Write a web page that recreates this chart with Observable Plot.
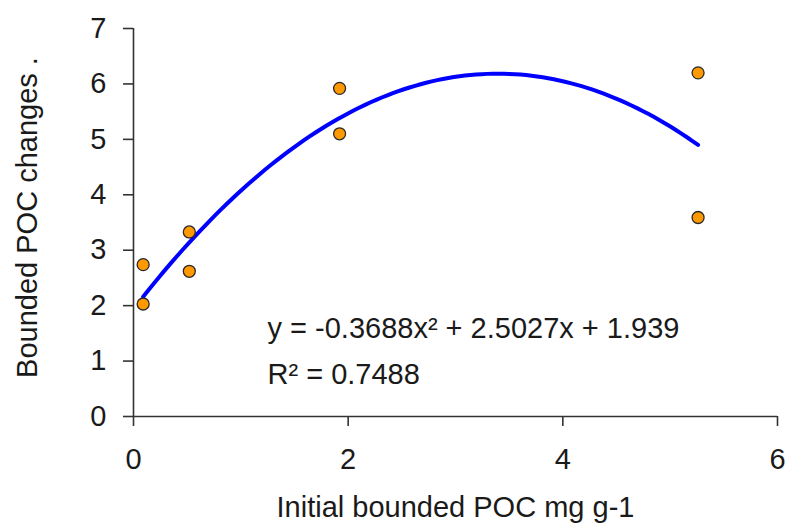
<!DOCTYPE html>
<html>
<head>
<meta charset="utf-8">
<script src="https://cdn.jsdelivr.net/npm/d3@7"></script>
<script src="https://cdn.jsdelivr.net/npm/@observablehq/plot@0.6"></script>
<style>
  html, body { margin: 0; padding: 0; background: #fff; }
  #chart svg { display: block; }
</style>
</head>
<body>
<div id="chart"></div>
<script>
// ---- data ----
const initialPOC = [0.09, 0.09, 0.52, 0.52, 1.92, 1.92, 5.26, 5.26];
const pocChange  = [2.74, 2.03, 3.33, 2.62, 5.92, 5.10, 6.20, 3.59];
// fitted polynomial shown on the chart: y = a x^2 + b x + c
const trendCoef = [-0.3688, 2.5027, 1.939];
const xTicks = [0, 2, 4, 6];
const yTicks = [0, 1, 2, 3, 4, 5, 6, 7];
const xLabel = "Initial bounded POC mg g-1";
const yLabel = "Bounded POC changes .";
const eqText = "y = -0.3688x\u00B2 + 2.5027x + 1.939";
const r2Text = "R\u00B2 = 0.7488";

const points = initialPOC.map((x, i) => ({x, y: pocChange[i]}));
const xMin = d3.min(initialPOC), xMax = d3.max(initialPOC);
const trend = d3.range(0, 101).map(i => {
  const x = xMin + (xMax - xMin) * i / 100;
  return {x, y: trendCoef[0] * x * x + trendCoef[1] * x + trendCoef[2]};
});

const FONT = "'Liberation Sans', Arial, Helvetica, sans-serif";
const FS = 29;
const INK = "#1a1a1a";

const chart = Plot.plot({
  width: 787,
  height: 530,
  marginLeft: 133,
  marginRight: 10,
  marginTop: 28,
  marginBottom: 114,
  style: {fontFamily: FONT, fontSize: FS + "px", color: INK, background: "#fff"},
  x: {domain: [0, 6]},
  y: {domain: [0, 7]},
  marks: [
    Plot.axisX({ticks: xTicks, tickFormat: d3.format("d"), tickSize: 10, tickPadding: 22, fontSize: FS, stroke: "#333", strokeWidth: 1.6, label: null}),
    Plot.axisY({ticks: yTicks, tickFormat: d3.format("d"), tickSize: 10, tickPadding: 17, fontSize: FS, stroke: "#333", strokeWidth: 1.6, label: null}),
    Plot.ruleY([0], {stroke: "#333", strokeWidth: 1.6}),
    Plot.ruleX([0], {stroke: "#333", strokeWidth: 1.6}),
    Plot.line(trend, {x: "x", y: "y", stroke: "#0000ff", strokeWidth: 4}),
    Plot.dot(points, {x: "x", y: "y", r: 6, fill: "#ff9900", stroke: "#2a2a2a", strokeWidth: 1.3}),
    Plot.text([eqText], {frameAnchor: "bottom-left", textAnchor: "start", lineAnchor: "bottom", dx: 134, dy: -79, fontSize: FS, fill: INK}),
    Plot.text([r2Text], {frameAnchor: "bottom-left", textAnchor: "start", lineAnchor: "bottom", dx: 134, dy: -33, fontSize: FS, fill: INK}),
    Plot.text([xLabel], {frameAnchor: "bottom", textAnchor: "middle", lineAnchor: "middle", dy: 91, fontSize: FS, fill: INK}),
    Plot.text([yLabel], {frameAnchor: "left", textAnchor: "middle", lineAnchor: "middle", rotate: -90, dx: -106, dy: -5, fontSize: FS, fill: INK})
  ]
});
document.getElementById("chart").appendChild(chart);
</script>
</body>
</html>
